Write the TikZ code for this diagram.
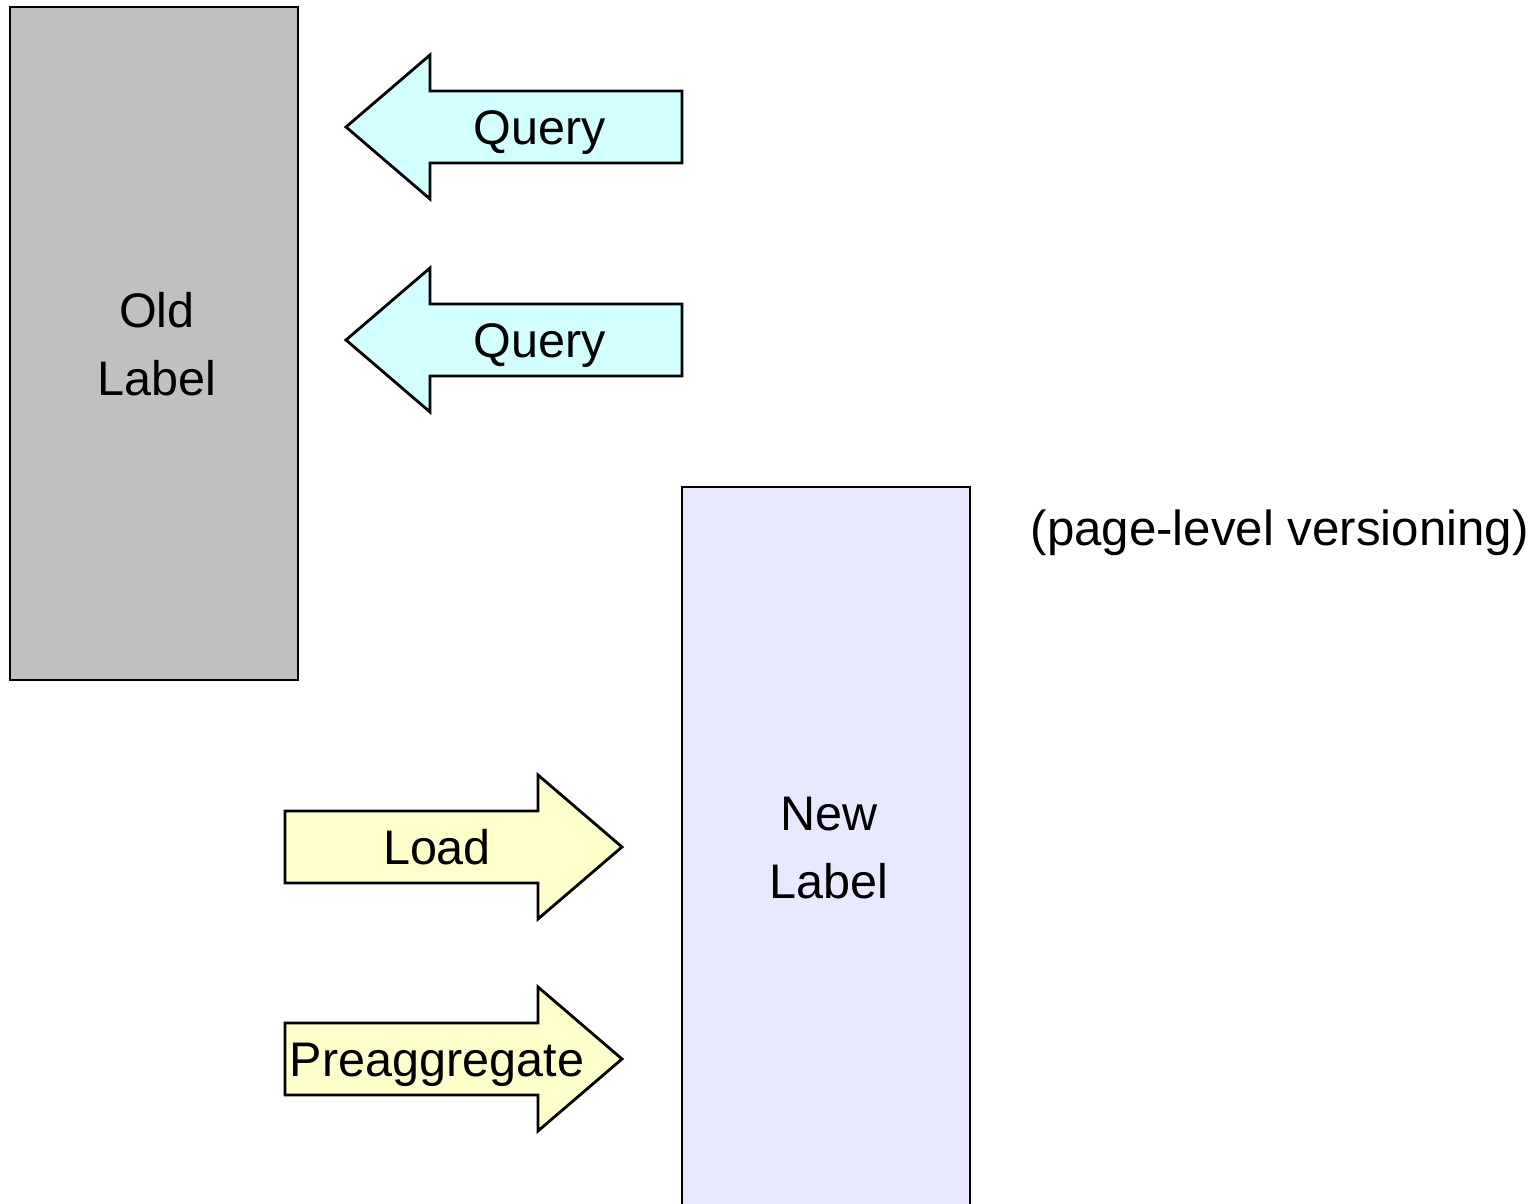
\documentclass[tikz,border=0pt]{standalone}
\usepackage{fontspec}
\setmainfont{Liberation Sans}
\usepackage{tikz}

\definecolor{oldgray}{HTML}{C0C0C0}
\definecolor{newblue}{HTML}{E8E8FF}
\definecolor{querycyan}{HTML}{D2FFFF}
\definecolor{loadyellow}{HTML}{FFFFCC}

\tikzset{
    box/.style={draw, line width=0.8pt, line join=miter},
    lbl/.style={font=\fontsize{13.8}{19.4}\selectfont, align=center},
    onelbl/.style={lbl, text height=10pt, text depth=0pt, inner sep=0pt}
}

\begin{document}
\begin{tikzpicture}[x=0.01cm, y=-0.01cm]
        \useasboundingbox (0,0) rectangle (1538,1204);

        % Draw the two label boxes
        \draw[box, fill=oldgray] (10,7) rectangle (298,680);
        \node[lbl] (oldlabel) at (157,344) {Old\\Label};
        \draw[box, fill=newblue] (682,487) rectangle (970,1220);
        \node[lbl] (newlabel) at (829,848) {New\\Label};

        % Query arrows (pointing left)
        \foreach \y/\nm in {127/queryA, 340/queryB} {
            \draw[box, fill=querycyan] (346,\y) -- (430,\y-72) -- (430,\y-36) -- (682,\y-36)
                -- (682,\y+36) -- (430,\y+36) -- (430,\y+72) -- cycle;
            \node[onelbl] (\nm) at (540,\y) {Query};
        }

        % Load arrows (pointing right)
        \foreach \y/\nm/\t in {847/load/Load, 1059/preagg/Preaggregate} {
            \draw[box, fill=loadyellow] (622,\y) -- (538,\y-72) -- (538,\y-36) -- (285,\y-36)
                -- (285,\y+36) -- (538,\y+36) -- (538,\y+72) -- cycle;
            \node[onelbl] (\nm) at (437,\y) {\t};
        }

        \node[lbl, font=\fontsize{14}{19.4}\selectfont, anchor=west, inner sep=0pt] (note) at (1030,533) {(page-level versioning)};
\end{tikzpicture}
\end{document}
